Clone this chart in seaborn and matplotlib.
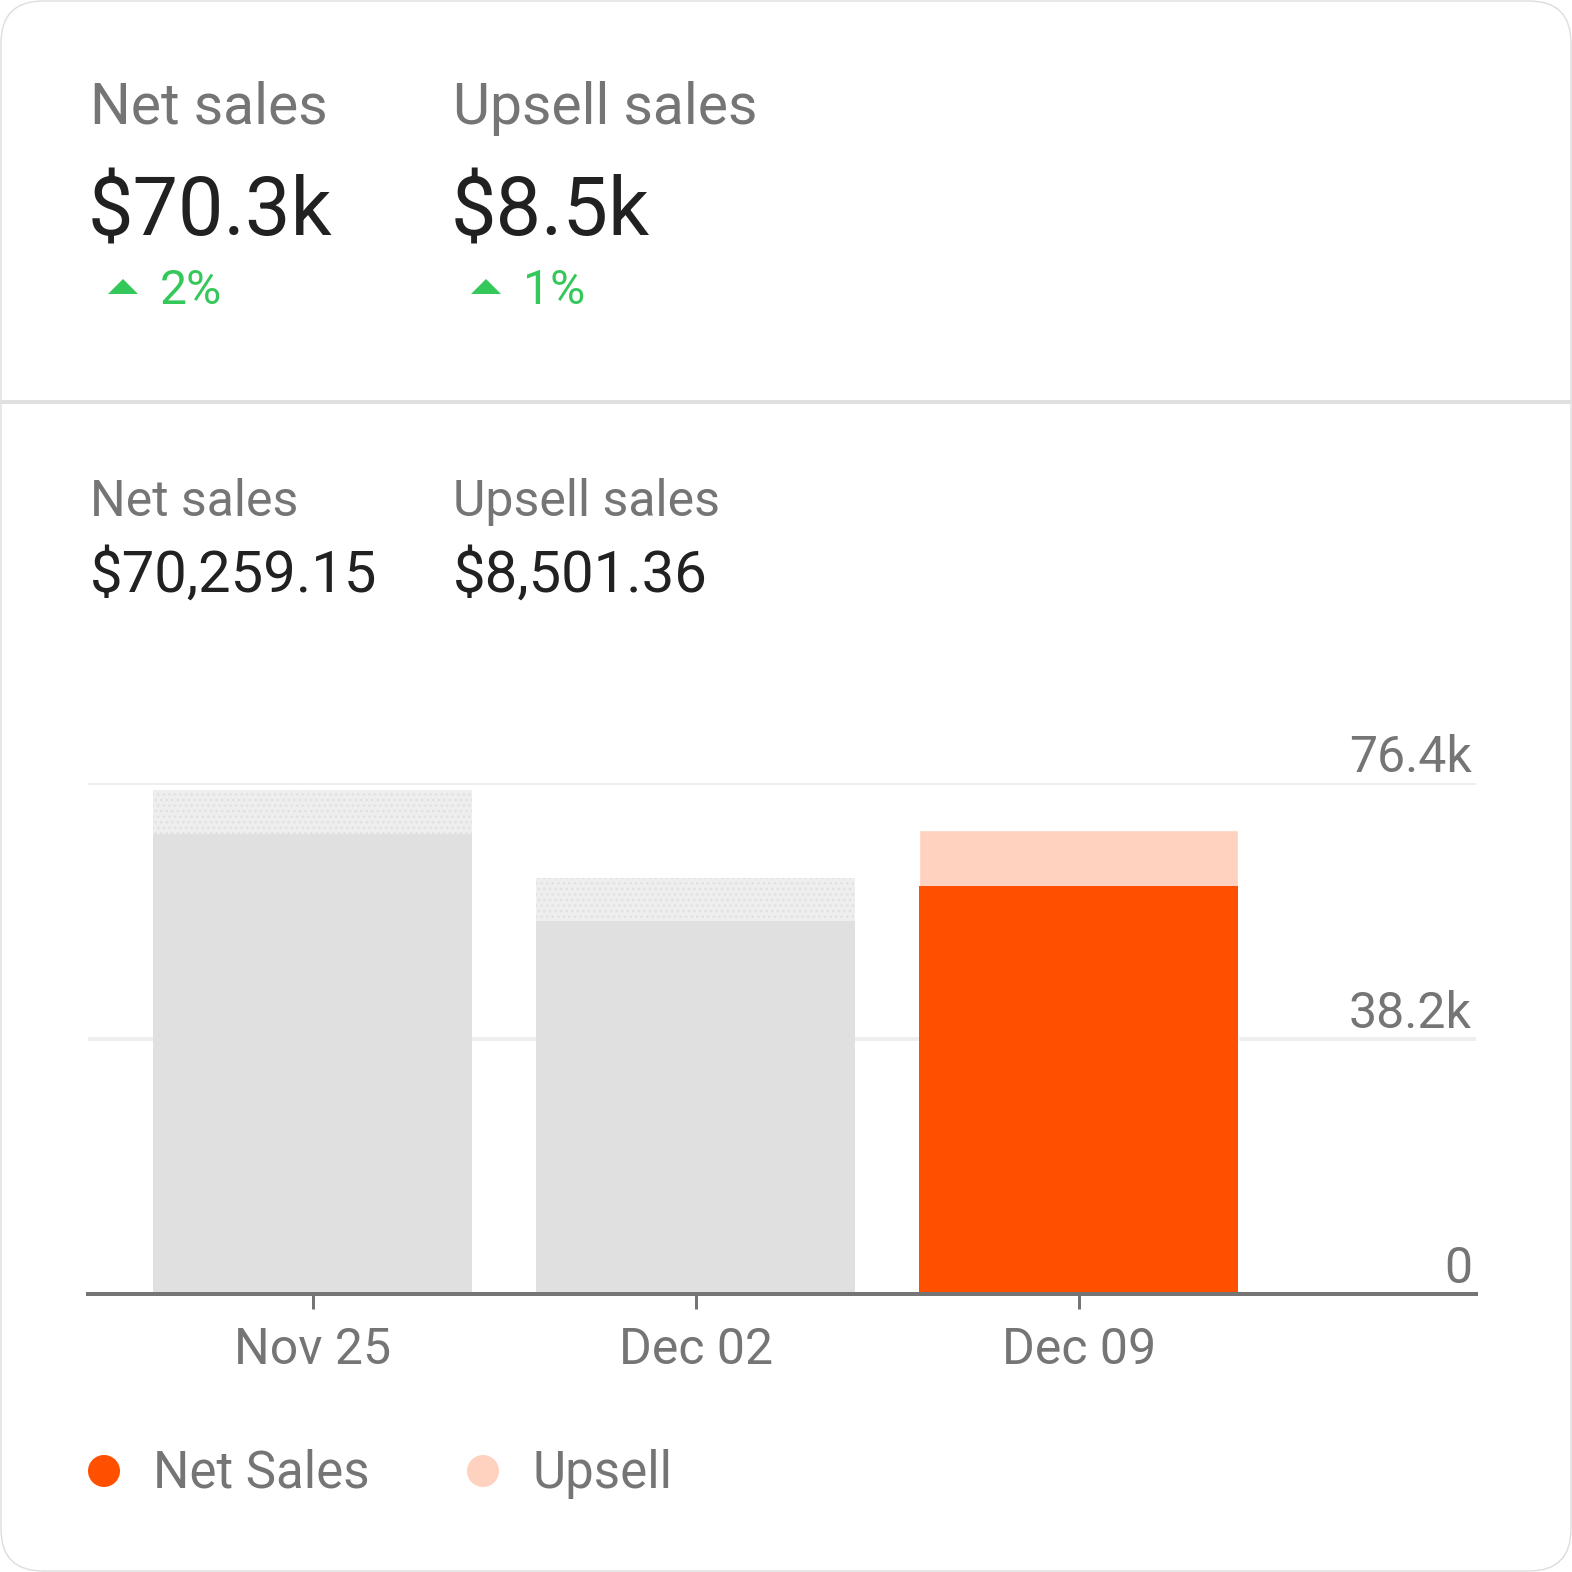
import matplotlib
matplotlib.use("Agg")
import matplotlib.pyplot as plt
import seaborn as sns
from matplotlib.patches import FancyBboxPatch, Polygon, Circle
from matplotlib.lines import Line2D

# data (thousands of dollars)
weeks = ["Nov 25", "Dec 02", "Dec 09"]
net_sales = [68.8, 55.8, 61.0]
upsell = [6.6, 6.4, 8.4]
y_ticks = [0, 38.2, 76.4]
y_tick_labels = ["0", "38.2k", "76.4k"]

summary_titles = ["Net sales", "Upsell sales"]
summary_short = ["$70.3k", "$8.5k"]
summary_change = ["2%", "1%"]
summary_full = ["$70,259.15", "$8,501.36"]
legend_labels = ["Net Sales", "Upsell"]

W = H = 1572
DPI = 100
GREY_TXT = "#757575"
DARK_TXT = "#212121"
GREEN = "#34c759"
ORANGE = "#ff5000"
PEACH = "#ffd2c0"


def fx(px):
    return px / W


def fy(py):
    return 1 - py / H


def fs(px):
    # font pixel size -> points
    return px * 72 / DPI


sns.set_style("white")
plt.rcParams["font.family"] = ["Roboto", "DejaVu Sans"]

fig = plt.figure(figsize=(W / DPI, H / DPI), dpi=DPI)

# card outline
card = FancyBboxPatch((fx(1), fx(1)), fx(W - 2), fx(H - 2),
                      boxstyle=f"round,pad=0,rounding_size={fx(42)}",
                      transform=fig.transFigure, facecolor="white",
                      edgecolor="#dddddd", linewidth=1, zorder=-5)
fig.patches.append(card)

# divider
fig.add_artist(Line2D([0, 1], [fy(402), fy(402)], color="#e0e0e0",
                      linewidth=fs(4), transform=fig.transFigure))

# summary blocks
cols = [90, 453]
for i, x in enumerate(cols):
    fig.text(fx(x), fy(124), summary_titles[i], fontsize=fs(57),
             color=GREY_TXT, va="baseline", ha="left")
    fig.text(fx(x - 2), fy(236), summary_short[i], fontsize=fs(81),
             color=DARK_TXT, va="baseline", ha="left")
    tri_x = x + 18
    fig.patches.append(Polygon([[fx(tri_x), fy(294)], [fx(tri_x + 30), fy(294)],
                                [fx(tri_x + 15), fy(279)]], closed=True,
                               transform=fig.transFigure, facecolor=GREEN,
                               edgecolor="none"))
    fig.text(fx(x + 70), fy(304), summary_change[i], fontsize=fs(48),
             color=GREEN, va="baseline", ha="left")
    fig.text(fx(x), fy(516), summary_titles[i], fontsize=fs(50),
             color=GREY_TXT, va="baseline", ha="left")
    fig.text(fx(x), fy(592), summary_full[i], fontsize=fs(58),
             color=DARK_TXT, va="baseline", ha="left")

# chart
ax = fig.add_axes([fx(88), 1 - 1294 / H, (1476 - 88) / W, 511 / H])
totals = [n + u for n, u in zip(net_sales, upsell)]
sns.barplot(x=weeks, y=totals, hue=weeks,
            palette=["#eeeeee", "#eeeeee", PEACH], saturation=1,
            width=0.833, legend=False, ax=ax, zorder=2)
for p in ax.patches[:2]:
    p.set_hatch("...")
    p.set_edgecolor("#e0e0e0")
    p.set_linewidth(0)
n_before = len(ax.patches)
sns.barplot(x=weeks, y=net_sales, hue=weeks,
            palette=["#e0e0e0", "#e0e0e0", ORANGE], saturation=1,
            width=0.833, legend=False, ax=ax, zorder=3)
for p in ax.patches[n_before:]:
    p.set_linewidth(0)

ax.set_xlim(-0.587, 3.037)
ax.set_ylim(0, 76.4)
ax.set_yticks([])
ax.set_xlabel("")
ax.set_ylabel("")
for v in y_ticks[1:]:
    ax.axhline(v, color="#eeeeee", linewidth=fs(4), zorder=1)
for v, lab in zip(y_ticks, y_tick_labels):
    ax.annotate(lab, xy=(1, v), xycoords=("axes fraction", "data"),
                xytext=(-4, 11), textcoords="offset pixels",
                ha="right", va="baseline", fontsize=fs(50), color=GREY_TXT)

for side in ["top", "left", "right"]:
    ax.spines[side].set_visible(False)
ax.spines["bottom"].set_color(GREY_TXT)
ax.spines["bottom"].set_linewidth(fs(4))
ax.spines["bottom"].set_zorder(5)
ax.tick_params(axis="x", bottom=True, length=fs(15), width=fs(3),
               color=GREY_TXT, labelsize=fs(50), labelcolor=GREY_TXT,
               pad=fs(17))
ax.set_facecolor("none")

# legend
leg_x = [104, 483]
leg_colors = [ORANGE, PEACH]
for x, c, lab in zip(leg_x, leg_colors, legend_labels):
    fig.patches.append(Circle((fx(x), fy(1471)), fx(16),
                              transform=fig.transFigure, facecolor=c,
                              edgecolor="none"))
    fig.text(fx(x + 49), fy(1488), lab, fontsize=fs(51), color=GREY_TXT,
             va="baseline", ha="left")

fig.savefig("out.png", dpi=DPI)
